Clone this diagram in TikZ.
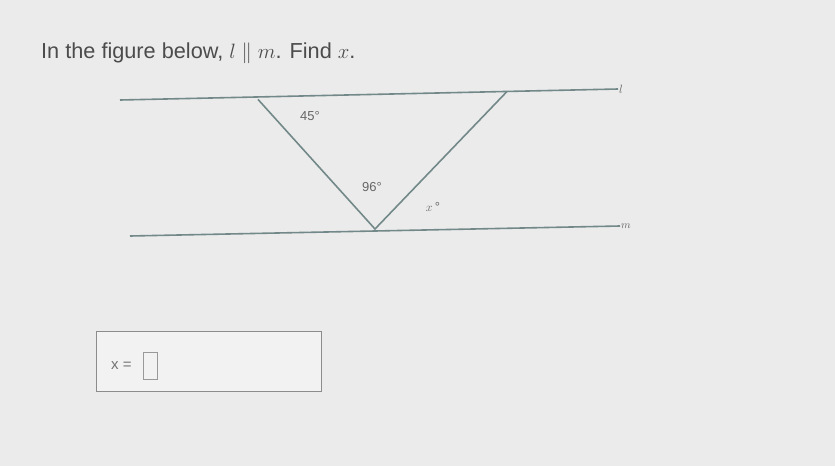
\documentclass[tikz,border=0pt]{standalone}
\usepackage{fontspec}
\setmainfont{Liberation Sans}
\usetikzlibrary{calc}
\usetikzlibrary{positioning}

\begin{document}
\begin{tikzpicture}[x=1pt,y=-1pt]

	% colours
	\def\paper{black!8!white}
	\def\ink{teal!30!black!55!white}
	\tikzset{lineseg/.style={draw=\ink, line width=1.6pt},
		angle/.style={text=black!60!white, font=\fontsize{13}{15}\selectfont}}

	% page
	\fill[\paper] (0,0) rectangle (835,466);
	\useasboundingbox (0,0) rectangle (835,466);

	% question
	\node[anchor=base west, text=black!70!white, font=\fontsize{21.7}{25}\selectfont, inner sep=0pt] (question) at (41,58)
		{In the figure below, $l\parallel m$. Find $x$.};

	% the two parallel lines
	\coordinate (lA) at (120,100);
	\coordinate (lB) at (618,89);
	\coordinate (mA) at (130,236);
	\coordinate (mB) at (620,226);
	\draw[lineseg] (lA) -- (lB);
	\draw[lineseg] (mA) -- (mB);
	\node[anchor=west, text=black!60!white, font=\fontsize{13}{15}\selectfont, inner sep=1pt] (lname) at (lB) {$l$};
	\node[anchor=west, text=black!60!white, font=\fontsize{11}{13}\selectfont, inner sep=1pt] (mname) at (mB) {$m$};

	% triangle between them
	\coordinate (left) at (258,99.4);
	\coordinate (right) at (507,91.5);
	\coordinate (bottom) at (375,229);
	\draw[lineseg] (left) -- (bottom) -- (right);

	% angle labels
	\node[angle] (a45) at (310,116) {45\textdegree};
	\node[angle] (a96) at (372,187) {96\textdegree};
	\node[angle] (ax) at (433,207) {$x$\,\textdegree};

	% answer box
	\node[draw=black!45!white, line width=0.8pt, minimum width=225pt, minimum height=60pt, fill=black!5!white] (answer) at (208.5,361) {};
	\node[anchor=west, text=black!55!white, font=\fontsize{15}{18}\selectfont, inner sep=0pt] (xeq) at (111,366) {x =};
	\node[draw=black!40!white, line width=0.8pt, minimum width=14pt, minimum height=27pt, inner sep=0pt, right=11pt of xeq] (slot) {};

\end{tikzpicture}
\end{document}
